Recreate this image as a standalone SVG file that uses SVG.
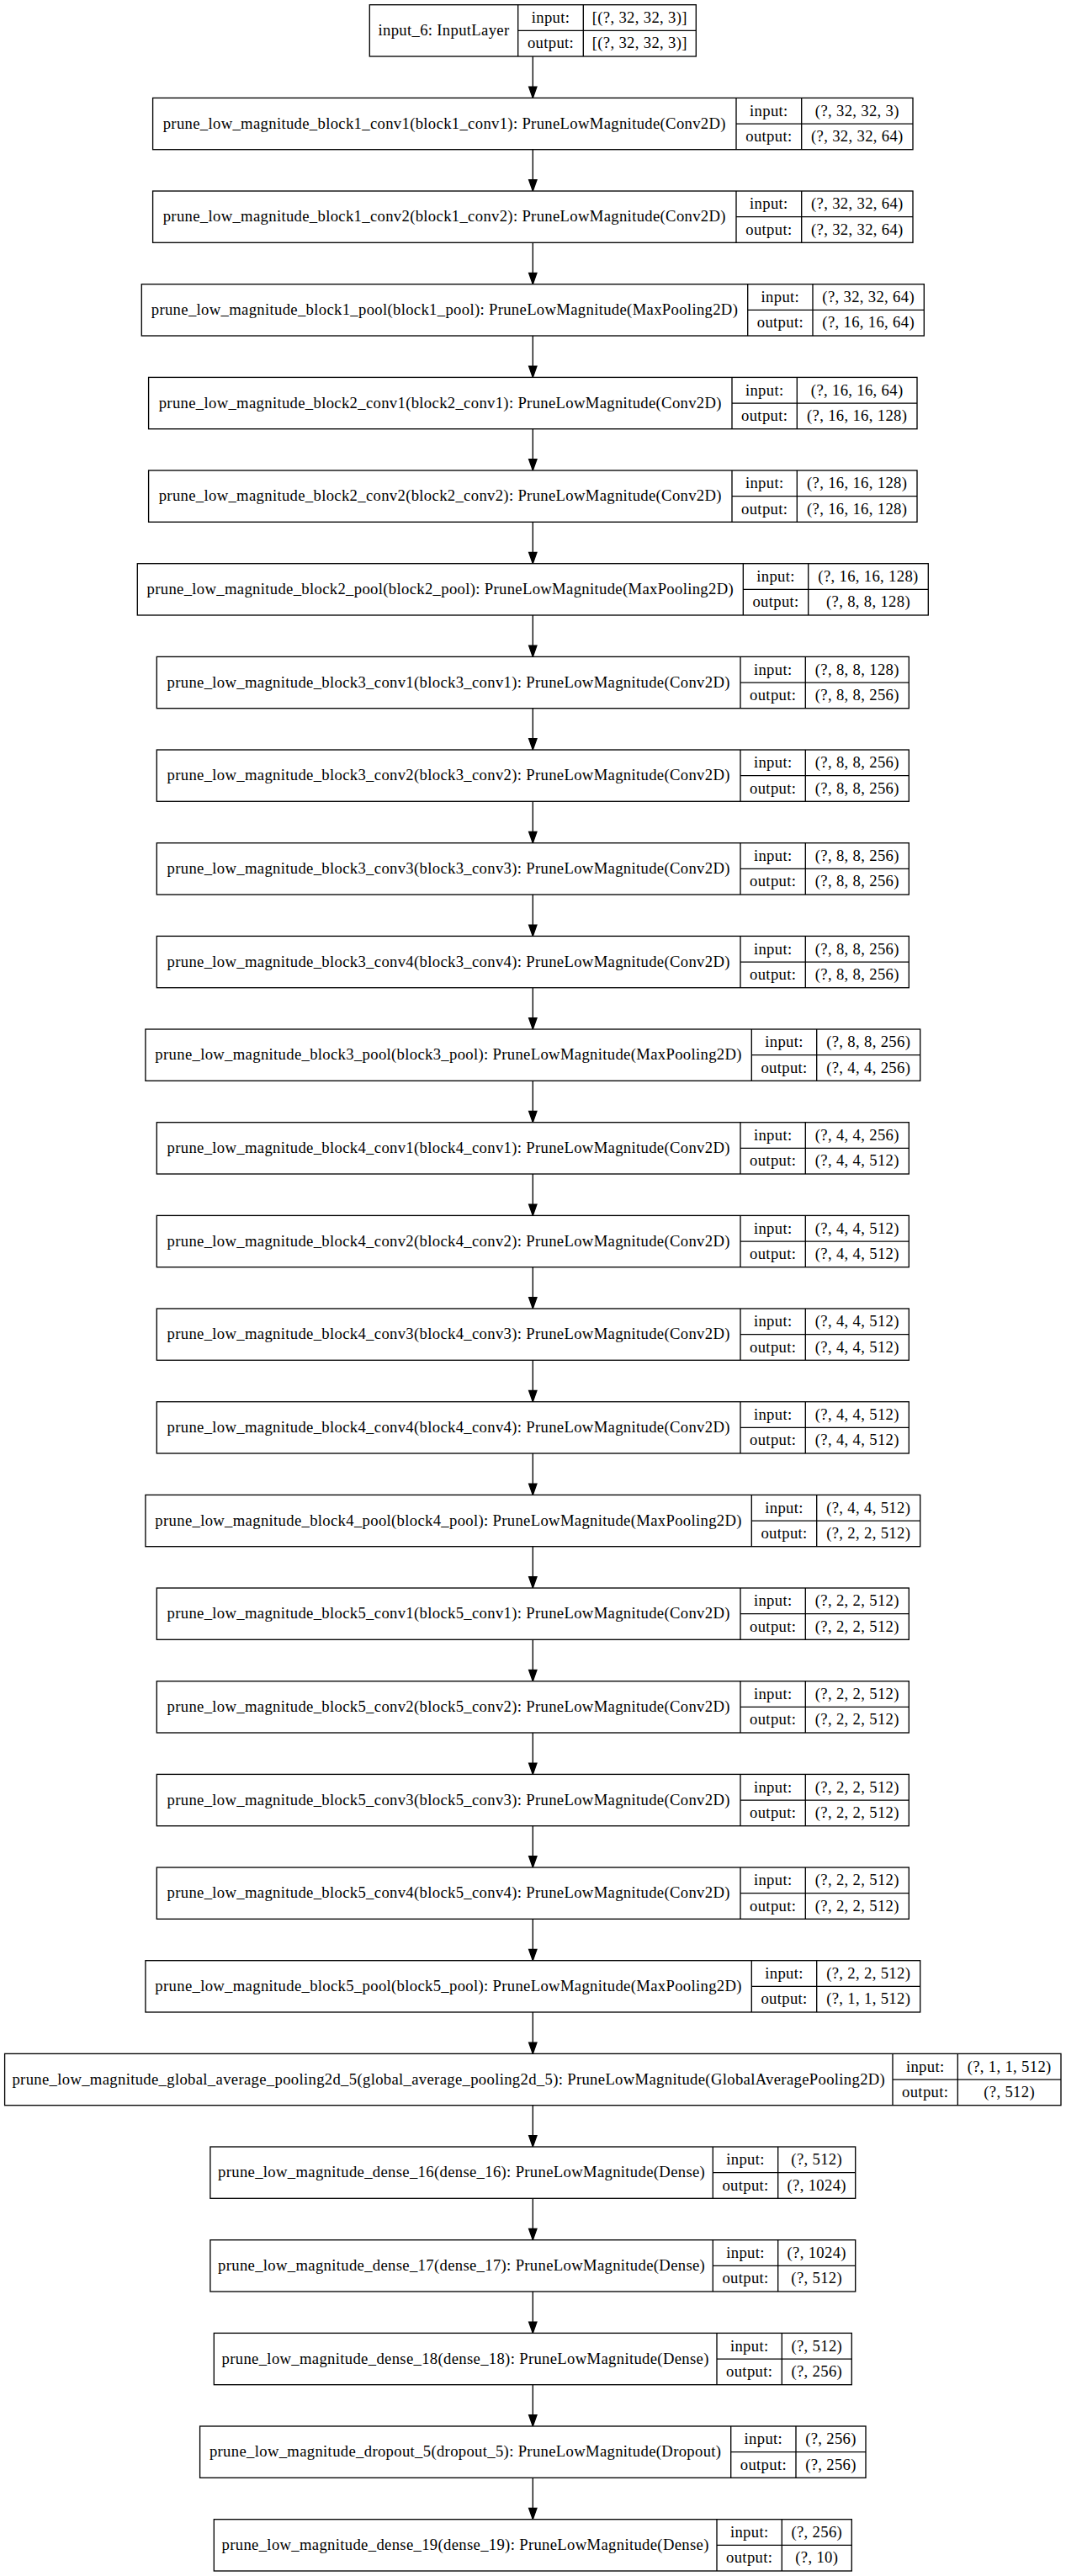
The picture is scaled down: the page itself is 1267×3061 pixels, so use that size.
<svg xmlns="http://www.w3.org/2000/svg" width="1267" height="3061" viewBox="0 0 1267 3061">
<style>
.box{fill:#fff;stroke:#000;stroke-width:1.33}
.sep{fill:none;stroke:#000;stroke-width:1.33}
text{font-family:"Liberation Serif","Times New Roman",serif;font-size:18.67px;text-anchor:middle;fill:#000;letter-spacing:0.33px}
.edge{fill:none;stroke:#000;stroke-width:1.33}
</style>
<defs>
<marker id="arr" markerUnits="userSpaceOnUse" markerWidth="16" markerHeight="12" refX="13.3" refY="4.67" orient="auto" overflow="visible">
<path d="M0,0 L13.3,4.67 L0,9.33 Z" fill="#000" stroke="#000" stroke-width="1.33"/>
</marker>
</defs>
<rect x="0" y="0" width="1267" height="3061" fill="#fff"/>
<g id="edges">
<path class="edge" marker-end="url(#arr)" d="M633.3,67.0V116.4"/>
<path class="edge" marker-end="url(#arr)" d="M633.3,177.7V227.0"/>
<path class="edge" marker-end="url(#arr)" d="M633.3,288.3V337.7"/>
<path class="edge" marker-end="url(#arr)" d="M633.3,399.0V448.4"/>
<path class="edge" marker-end="url(#arr)" d="M633.3,509.7V559.0"/>
<path class="edge" marker-end="url(#arr)" d="M633.3,620.3V669.7"/>
<path class="edge" marker-end="url(#arr)" d="M633.3,731.0V780.4"/>
<path class="edge" marker-end="url(#arr)" d="M633.3,841.7V891.0"/>
<path class="edge" marker-end="url(#arr)" d="M633.3,952.3V1001.7"/>
<path class="edge" marker-end="url(#arr)" d="M633.3,1063.0V1112.4"/>
<path class="edge" marker-end="url(#arr)" d="M633.3,1173.7V1223.0"/>
<path class="edge" marker-end="url(#arr)" d="M633.3,1284.3V1333.7"/>
<path class="edge" marker-end="url(#arr)" d="M633.3,1395.0V1444.4"/>
<path class="edge" marker-end="url(#arr)" d="M633.3,1505.7V1555.0"/>
<path class="edge" marker-end="url(#arr)" d="M633.3,1616.3V1665.7"/>
<path class="edge" marker-end="url(#arr)" d="M633.3,1727.0V1776.4"/>
<path class="edge" marker-end="url(#arr)" d="M633.3,1837.7V1887.0"/>
<path class="edge" marker-end="url(#arr)" d="M633.3,1948.3V1997.7"/>
<path class="edge" marker-end="url(#arr)" d="M633.3,2059.0V2108.4"/>
<path class="edge" marker-end="url(#arr)" d="M633.3,2169.7V2219.0"/>
<path class="edge" marker-end="url(#arr)" d="M633.3,2280.3V2329.7"/>
<path class="edge" marker-end="url(#arr)" d="M633.3,2391.0V2440.4"/>
<path class="edge" marker-end="url(#arr)" d="M633.3,2501.7V2551.0"/>
<path class="edge" marker-end="url(#arr)" d="M633.3,2612.3V2661.7"/>
<path class="edge" marker-end="url(#arr)" d="M633.3,2723.0V2772.4"/>
<path class="edge" marker-end="url(#arr)" d="M633.3,2833.7V2883.0"/>
<path class="edge" marker-end="url(#arr)" d="M633.3,2944.3V2993.7"/>
</g>

<g id="input_6" transform="translate(0,5.7)">
<rect class="box" x="439.3" y="0" width="388" height="61.3"/>
<path class="sep" d="M615.7,0V61.3M693.3,0V61.3M615.7,30.7H827.3"/>
<text x="527.5" y="36.4">input_6: InputLayer</text>
<text x="654.5" y="21.2">input:</text><text x="654.5" y="51.8">output:</text>
<text x="760.3" y="21.2">[(?, 32, 32, 3)]</text><text x="760.3" y="51.8">[(?, 32, 32, 3)]</text>
</g>

<g id="block1_conv1" transform="translate(0,116.4)">
<rect class="box" x="181.6" y="0" width="903.4" height="61.3"/>
<path class="sep" d="M875,0V61.3M952.7,0V61.3M875,30.7H1085"/>
<text x="528.3" y="36.4">prune_low_magnitude_block1_conv1(block1_conv1): PruneLowMagnitude(Conv2D)</text>
<text x="913.85" y="21.2">input:</text><text x="913.85" y="51.8">output:</text>
<text x="1018.85" y="21.2">(?, 32, 32, 3)</text><text x="1018.85" y="51.8">(?, 32, 32, 64)</text>
</g>

<g id="block1_conv2" transform="translate(0,227.0)">
<rect class="box" x="181.6" y="0" width="903.4" height="61.3"/>
<path class="sep" d="M875,0V61.3M952.7,0V61.3M875,30.7H1085"/>
<text x="528.3" y="36.4">prune_low_magnitude_block1_conv2(block1_conv2): PruneLowMagnitude(Conv2D)</text>
<text x="913.85" y="21.2">input:</text><text x="913.85" y="51.8">output:</text>
<text x="1018.85" y="21.2">(?, 32, 32, 64)</text><text x="1018.85" y="51.8">(?, 32, 32, 64)</text>
</g>

<g id="block1_pool" transform="translate(0,337.7)">
<rect class="box" x="168.3" y="0" width="930" height="61.3"/>
<path class="sep" d="M888.7,0V61.3M966,0V61.3M888.7,30.7H1098.3"/>
<text x="528.5" y="36.4">prune_low_magnitude_block1_pool(block1_pool): PruneLowMagnitude(MaxPooling2D)</text>
<text x="927.35" y="21.2">input:</text><text x="927.35" y="51.8">output:</text>
<text x="1032.15" y="21.2">(?, 32, 32, 64)</text><text x="1032.15" y="51.8">(?, 16, 16, 64)</text>
</g>

<g id="block2_conv1" transform="translate(0,448.4)">
<rect class="box" x="176.6" y="0" width="913.4" height="61.3"/>
<path class="sep" d="M870,0V61.3M947.3,0V61.3M870,30.7H1090"/>
<text x="523.3" y="36.4">prune_low_magnitude_block2_conv1(block2_conv1): PruneLowMagnitude(Conv2D)</text>
<text x="908.65" y="21.2">input:</text><text x="908.65" y="51.8">output:</text>
<text x="1018.65" y="21.2">(?, 16, 16, 64)</text><text x="1018.65" y="51.8">(?, 16, 16, 128)</text>
</g>

<g id="block2_conv2" transform="translate(0,559.0)">
<rect class="box" x="176.6" y="0" width="913.4" height="61.3"/>
<path class="sep" d="M870,0V61.3M947.3,0V61.3M870,30.7H1090"/>
<text x="523.3" y="36.4">prune_low_magnitude_block2_conv2(block2_conv2): PruneLowMagnitude(Conv2D)</text>
<text x="908.65" y="21.2">input:</text><text x="908.65" y="51.8">output:</text>
<text x="1018.65" y="21.2">(?, 16, 16, 128)</text><text x="1018.65" y="51.8">(?, 16, 16, 128)</text>
</g>

<g id="block2_pool" transform="translate(0,669.7)">
<rect class="box" x="163.3" y="0" width="940" height="61.3"/>
<path class="sep" d="M883.3,0V61.3M960.7,0V61.3M883.3,30.7H1103.3"/>
<text x="523.3" y="36.4">prune_low_magnitude_block2_pool(block2_pool): PruneLowMagnitude(MaxPooling2D)</text>
<text x="922" y="21.2">input:</text><text x="922" y="51.8">output:</text>
<text x="1032" y="21.2">(?, 16, 16, 128)</text><text x="1032" y="51.8">(?, 8, 8, 128)</text>
</g>

<g id="block3_conv1" transform="translate(0,780.4)">
<rect class="box" x="186.3" y="0" width="894" height="61.3"/>
<path class="sep" d="M880,0V61.3M957.3,0V61.3M880,30.7H1080.3"/>
<text x="533.15" y="36.4">prune_low_magnitude_block3_conv1(block3_conv1): PruneLowMagnitude(Conv2D)</text>
<text x="918.65" y="21.2">input:</text><text x="918.65" y="51.8">output:</text>
<text x="1018.8" y="21.2">(?, 8, 8, 128)</text><text x="1018.8" y="51.8">(?, 8, 8, 256)</text>
</g>

<g id="block3_conv2" transform="translate(0,891.0)">
<rect class="box" x="186.3" y="0" width="894" height="61.3"/>
<path class="sep" d="M880,0V61.3M957.3,0V61.3M880,30.7H1080.3"/>
<text x="533.15" y="36.4">prune_low_magnitude_block3_conv2(block3_conv2): PruneLowMagnitude(Conv2D)</text>
<text x="918.65" y="21.2">input:</text><text x="918.65" y="51.8">output:</text>
<text x="1018.8" y="21.2">(?, 8, 8, 256)</text><text x="1018.8" y="51.8">(?, 8, 8, 256)</text>
</g>

<g id="block3_conv3" transform="translate(0,1001.7)">
<rect class="box" x="186.3" y="0" width="894" height="61.3"/>
<path class="sep" d="M880,0V61.3M957.3,0V61.3M880,30.7H1080.3"/>
<text x="533.15" y="36.4">prune_low_magnitude_block3_conv3(block3_conv3): PruneLowMagnitude(Conv2D)</text>
<text x="918.65" y="21.2">input:</text><text x="918.65" y="51.8">output:</text>
<text x="1018.8" y="21.2">(?, 8, 8, 256)</text><text x="1018.8" y="51.8">(?, 8, 8, 256)</text>
</g>

<g id="block3_conv4" transform="translate(0,1112.4)">
<rect class="box" x="186.3" y="0" width="894" height="61.3"/>
<path class="sep" d="M880,0V61.3M957.3,0V61.3M880,30.7H1080.3"/>
<text x="533.15" y="36.4">prune_low_magnitude_block3_conv4(block3_conv4): PruneLowMagnitude(Conv2D)</text>
<text x="918.65" y="21.2">input:</text><text x="918.65" y="51.8">output:</text>
<text x="1018.8" y="21.2">(?, 8, 8, 256)</text><text x="1018.8" y="51.8">(?, 8, 8, 256)</text>
</g>

<g id="block3_pool" transform="translate(0,1223.0)">
<rect class="box" x="172.9" y="0" width="920.8" height="61.3"/>
<path class="sep" d="M893.3,0V61.3M970.7,0V61.3M893.3,30.7H1093.7"/>
<text x="533.1" y="36.4">prune_low_magnitude_block3_pool(block3_pool): PruneLowMagnitude(MaxPooling2D)</text>
<text x="932" y="21.2">input:</text><text x="932" y="51.8">output:</text>
<text x="1032.2" y="21.2">(?, 8, 8, 256)</text><text x="1032.2" y="51.8">(?, 4, 4, 256)</text>
</g>

<g id="block4_conv1" transform="translate(0,1333.7)">
<rect class="box" x="186.3" y="0" width="894" height="61.3"/>
<path class="sep" d="M880,0V61.3M957.3,0V61.3M880,30.7H1080.3"/>
<text x="533.15" y="36.4">prune_low_magnitude_block4_conv1(block4_conv1): PruneLowMagnitude(Conv2D)</text>
<text x="918.65" y="21.2">input:</text><text x="918.65" y="51.8">output:</text>
<text x="1018.8" y="21.2">(?, 4, 4, 256)</text><text x="1018.8" y="51.8">(?, 4, 4, 512)</text>
</g>

<g id="block4_conv2" transform="translate(0,1444.4)">
<rect class="box" x="186.3" y="0" width="894" height="61.3"/>
<path class="sep" d="M880,0V61.3M957.3,0V61.3M880,30.7H1080.3"/>
<text x="533.15" y="36.4">prune_low_magnitude_block4_conv2(block4_conv2): PruneLowMagnitude(Conv2D)</text>
<text x="918.65" y="21.2">input:</text><text x="918.65" y="51.8">output:</text>
<text x="1018.8" y="21.2">(?, 4, 4, 512)</text><text x="1018.8" y="51.8">(?, 4, 4, 512)</text>
</g>

<g id="block4_conv3" transform="translate(0,1555.0)">
<rect class="box" x="186.3" y="0" width="894" height="61.3"/>
<path class="sep" d="M880,0V61.3M957.3,0V61.3M880,30.7H1080.3"/>
<text x="533.15" y="36.4">prune_low_magnitude_block4_conv3(block4_conv3): PruneLowMagnitude(Conv2D)</text>
<text x="918.65" y="21.2">input:</text><text x="918.65" y="51.8">output:</text>
<text x="1018.8" y="21.2">(?, 4, 4, 512)</text><text x="1018.8" y="51.8">(?, 4, 4, 512)</text>
</g>

<g id="block4_conv4" transform="translate(0,1665.7)">
<rect class="box" x="186.3" y="0" width="894" height="61.3"/>
<path class="sep" d="M880,0V61.3M957.3,0V61.3M880,30.7H1080.3"/>
<text x="533.15" y="36.4">prune_low_magnitude_block4_conv4(block4_conv4): PruneLowMagnitude(Conv2D)</text>
<text x="918.65" y="21.2">input:</text><text x="918.65" y="51.8">output:</text>
<text x="1018.8" y="21.2">(?, 4, 4, 512)</text><text x="1018.8" y="51.8">(?, 4, 4, 512)</text>
</g>

<g id="block4_pool" transform="translate(0,1776.4)">
<rect class="box" x="172.9" y="0" width="920.8" height="61.3"/>
<path class="sep" d="M893.3,0V61.3M970.7,0V61.3M893.3,30.7H1093.7"/>
<text x="533.1" y="36.4">prune_low_magnitude_block4_pool(block4_pool): PruneLowMagnitude(MaxPooling2D)</text>
<text x="932" y="21.2">input:</text><text x="932" y="51.8">output:</text>
<text x="1032.2" y="21.2">(?, 4, 4, 512)</text><text x="1032.2" y="51.8">(?, 2, 2, 512)</text>
</g>

<g id="block5_conv1" transform="translate(0,1887.0)">
<rect class="box" x="186.3" y="0" width="894" height="61.3"/>
<path class="sep" d="M880,0V61.3M957.3,0V61.3M880,30.7H1080.3"/>
<text x="533.15" y="36.4">prune_low_magnitude_block5_conv1(block5_conv1): PruneLowMagnitude(Conv2D)</text>
<text x="918.65" y="21.2">input:</text><text x="918.65" y="51.8">output:</text>
<text x="1018.8" y="21.2">(?, 2, 2, 512)</text><text x="1018.8" y="51.8">(?, 2, 2, 512)</text>
</g>

<g id="block5_conv2" transform="translate(0,1997.7)">
<rect class="box" x="186.3" y="0" width="894" height="61.3"/>
<path class="sep" d="M880,0V61.3M957.3,0V61.3M880,30.7H1080.3"/>
<text x="533.15" y="36.4">prune_low_magnitude_block5_conv2(block5_conv2): PruneLowMagnitude(Conv2D)</text>
<text x="918.65" y="21.2">input:</text><text x="918.65" y="51.8">output:</text>
<text x="1018.8" y="21.2">(?, 2, 2, 512)</text><text x="1018.8" y="51.8">(?, 2, 2, 512)</text>
</g>

<g id="block5_conv3" transform="translate(0,2108.4)">
<rect class="box" x="186.3" y="0" width="894" height="61.3"/>
<path class="sep" d="M880,0V61.3M957.3,0V61.3M880,30.7H1080.3"/>
<text x="533.15" y="36.4">prune_low_magnitude_block5_conv3(block5_conv3): PruneLowMagnitude(Conv2D)</text>
<text x="918.65" y="21.2">input:</text><text x="918.65" y="51.8">output:</text>
<text x="1018.8" y="21.2">(?, 2, 2, 512)</text><text x="1018.8" y="51.8">(?, 2, 2, 512)</text>
</g>

<g id="block5_conv4" transform="translate(0,2219.0)">
<rect class="box" x="186.3" y="0" width="894" height="61.3"/>
<path class="sep" d="M880,0V61.3M957.3,0V61.3M880,30.7H1080.3"/>
<text x="533.15" y="36.4">prune_low_magnitude_block5_conv4(block5_conv4): PruneLowMagnitude(Conv2D)</text>
<text x="918.65" y="21.2">input:</text><text x="918.65" y="51.8">output:</text>
<text x="1018.8" y="21.2">(?, 2, 2, 512)</text><text x="1018.8" y="51.8">(?, 2, 2, 512)</text>
</g>

<g id="block5_pool" transform="translate(0,2329.7)">
<rect class="box" x="172.9" y="0" width="920.8" height="61.3"/>
<path class="sep" d="M893.3,0V61.3M970.7,0V61.3M893.3,30.7H1093.7"/>
<text x="533.1" y="36.4">prune_low_magnitude_block5_pool(block5_pool): PruneLowMagnitude(MaxPooling2D)</text>
<text x="932" y="21.2">input:</text><text x="932" y="51.8">output:</text>
<text x="1032.2" y="21.2">(?, 2, 2, 512)</text><text x="1032.2" y="51.8">(?, 1, 1, 512)</text>
</g>

<g id="global_average_pooling2d_5" transform="translate(0,2440.4)">
<rect class="box" x="5.6" y="0" width="1255.4" height="61.3"/>
<path class="sep" d="M1061,0V61.3M1138.3,0V61.3M1061,30.7H1261"/>
<text x="533.3" y="36.4">prune_low_magnitude_global_average_pooling2d_5(global_average_pooling2d_5): PruneLowMagnitude(GlobalAveragePooling2D)</text>
<text x="1099.65" y="21.2">input:</text><text x="1099.65" y="51.8">output:</text>
<text x="1199.65" y="21.2">(?, 1, 1, 512)</text><text x="1199.65" y="51.8">(?, 512)</text>
</g>

<g id="dense_16" transform="translate(0,2551.0)">
<rect class="box" x="249.9" y="0" width="766.8" height="61.3"/>
<path class="sep" d="M847.3,0V61.3M924.7,0V61.3M847.3,30.7H1016.7"/>
<text x="548.6" y="36.4">prune_low_magnitude_dense_16(dense_16): PruneLowMagnitude(Dense)</text>
<text x="886" y="21.2">input:</text><text x="886" y="51.8">output:</text>
<text x="970.7" y="21.2">(?, 512)</text><text x="970.7" y="51.8">(?, 1024)</text>
</g>

<g id="dense_17" transform="translate(0,2661.7)">
<rect class="box" x="249.9" y="0" width="766.8" height="61.3"/>
<path class="sep" d="M847.3,0V61.3M924.7,0V61.3M847.3,30.7H1016.7"/>
<text x="548.6" y="36.4">prune_low_magnitude_dense_17(dense_17): PruneLowMagnitude(Dense)</text>
<text x="886" y="21.2">input:</text><text x="886" y="51.8">output:</text>
<text x="970.7" y="21.2">(?, 1024)</text><text x="970.7" y="51.8">(?, 512)</text>
</g>

<g id="dense_18" transform="translate(0,2772.4)">
<rect class="box" x="254.3" y="0" width="758" height="61.3"/>
<path class="sep" d="M852,0V61.3M929.3,0V61.3M852,30.7H1012.3"/>
<text x="553.15" y="36.4">prune_low_magnitude_dense_18(dense_18): PruneLowMagnitude(Dense)</text>
<text x="890.65" y="21.2">input:</text><text x="890.65" y="51.8">output:</text>
<text x="970.8" y="21.2">(?, 512)</text><text x="970.8" y="51.8">(?, 256)</text>
</g>

<g id="dropout_5" transform="translate(0,2883.0)">
<rect class="box" x="237.6" y="0" width="791.4" height="61.3"/>
<path class="sep" d="M868.7,0V61.3M946,0V61.3M868.7,30.7H1029"/>
<text x="553.15" y="36.4">prune_low_magnitude_dropout_5(dropout_5): PruneLowMagnitude(Dropout)</text>
<text x="907.35" y="21.2">input:</text><text x="907.35" y="51.8">output:</text>
<text x="987.5" y="21.2">(?, 256)</text><text x="987.5" y="51.8">(?, 256)</text>
</g>

<g id="dense_19" transform="translate(0,2993.7)">
<rect class="box" x="254.3" y="0" width="758" height="61.3"/>
<path class="sep" d="M852,0V61.3M929.3,0V61.3M852,30.7H1012.3"/>
<text x="553.15" y="36.4">prune_low_magnitude_dense_19(dense_19): PruneLowMagnitude(Dense)</text>
<text x="890.65" y="21.2">input:</text><text x="890.65" y="51.8">output:</text>
<text x="970.8" y="21.2">(?, 256)</text><text x="970.8" y="51.8">(?, 10)</text>
</g>
</svg>
